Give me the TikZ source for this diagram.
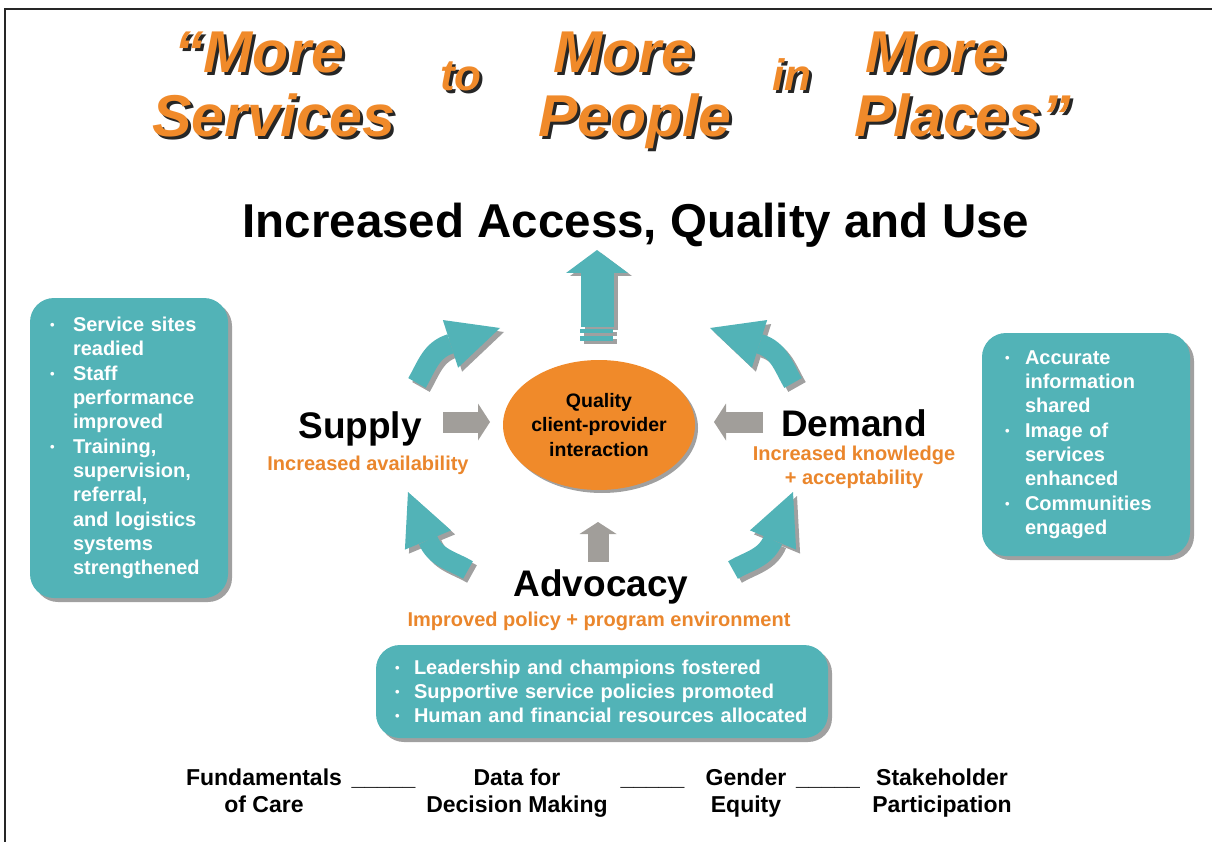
\documentclass[tikz,border=0pt]{standalone}
\usepackage{fontspec}
\setmainfont{Liberation Sans}
\usepackage{xcolor}
\usepackage{tikz}
\usetikzlibrary{arrows.meta,shapes.geometric,shadows}

\definecolor{boxteal}{RGB}{82,179,183}
\definecolor{hubor}{RGB}{240,138,42}
\definecolor{subor}{RGB}{234,134,44}
\definecolor{shadowgray}{RGB}{160,160,160}
\definecolor{arrowgray}{RGB}{161,158,154}

\newlength{\bulw}
\setlength{\bulw}{21pt}
\newcommand{\dropped}[1]{\rlap{\textcolor{black!85}{\kern3pt\raisebox{-3pt}{#1}}}#1}
\newcommand{\bul}{\makebox[\bulw][l]{\raisebox{2pt}{\fontsize{13}{13}\selectfont\textbullet}}}
\newcommand{\ind}{\hspace*{\bulw}}

\tikzset{
  slogan/.style={anchor=base, inner sep=0pt, text=hubor, font=\fontsize{59}{59}\selectfont\bfseries\itshape},
  joiner/.style={slogan, font=\fontsize{44}{44}\selectfont\bfseries\itshape},
  goal/.style={anchor=base, inner sep=0pt, font=\fontsize{47.5}{47.5}\selectfont\bfseries},
  pillar/.style={anchor=base, inner sep=0pt, font=\fontsize{37}{37}\selectfont\bfseries},
  result/.style={inner sep=0pt, align=center, text=subor, font=\fontsize{20}{24}\selectfont\bfseries},
  hub/.style={ellipse, fill=hubor, minimum width=192pt, minimum height=130pt, inner sep=0pt, align=center,
    font=\fontsize{19.5}{24.5}\selectfont\bfseries, drop shadow={shadow xshift=3pt, shadow yshift=-3pt, fill=shadowgray, opacity=1}},
  infobox/.style={rounded corners=24pt, fill=boxteal, text=white, align=left, inner ysep=0pt,
    font=\fontsize{20}{24.3}\selectfont\bfseries, drop shadow={shadow xshift=4pt, shadow yshift=-4pt, fill=shadowgray, opacity=1}},
  pillarfoot/.style={inner sep=0pt, align=center, font=\fontsize{23}{27}\selectfont\bfseries},
  flat arrow/.style={line width=21pt, color=arrowgray, -{Triangle[length=12pt,width=37pt,line width=0pt]}},
  bend arrow/.style={line width=20pt, color=boxteal, -{Triangle[length=52pt,width=50pt,line width=0pt]}},
  bend shadow/.style={bend arrow, color=shadowgray, transform canvas={shift={(4pt,-4pt)}}},
  up arrow/.style={line width=33pt, color=boxteal, -{Triangle[length=23pt,width=62pt,line width=0pt]}},
  frame/.style={line width=1.6pt, draw=black!85}
}

\begin{document}
\begin{tikzpicture}[x=1pt,y=1pt]
\useasboundingbox (0,0) rectangle (1212,-842);
\draw[frame] (5,-842) -- (5,-9) -- (1212,-9);

\node[slogan] (more1) at (274,-73) {\dropped{\llap{“}More}};
\node[slogan] (services) at (274,-137) {\dropped{Services}};
\node[joiner] (to) at (461,-91) {\dropped{to}};
\node[slogan] (more2) at (624,-73) {\dropped{More}};
\node[slogan] (people) at (635,-137) {\dropped{People}};
\node[joiner] (in) at (792,-91) {\dropped{in}};
\node[slogan] (more3) at (936,-73) {\dropped{More}};
\node[slogan] (places) at (948,-137) {\dropped{Places\rlap{”}}};

\node[goal] (goal) at (636,-238) {Increased Access, Quality and Use};

\coordinate (up-a) at (597,-327);
\coordinate (up-b) at (597,-250);
\draw[up arrow, color=shadowgray, transform canvas={shift={(4pt,-3pt)}}] (up-a) -- (up-b);
\draw[up arrow] (up-a) -- (up-b);
\foreach \ya/\yb in {329/333,336/341} {
  \fill[shadowgray] (584,{-\ya-3}) rectangle (617,{-\yb-3});
  \fill[boxteal] (580,-\ya) rectangle (613,-\yb);
}

\node[hub] (hub) at (599,-425) {Quality\\client-provider\\interaction};

\node[pillar] (supply) at (360,-438) {Supply};
\node[result, anchor=base] (avail) at (368,-470) {Increased availability};
\node[pillar] (demand) at (854,-436) {Demand};
\node[result] (know) at (854,-467.8) {Increased knowledge\\+ acceptability};
\node[pillar] (advocacy) at (601,-596) {Advocacy};
\node[result, anchor=base] (env) at (599,-626) {Improved policy + program environment};

\coordinate (sup-out) at (443,-422);
\coordinate (sup-in) at (490,-422);
\coordinate (dem-out) at (763,-422);
\coordinate (dem-in) at (714,-422);
\coordinate (adv-out) at (598,-562);
\coordinate (adv-in) at (598,-522);
\draw[flat arrow] (sup-out) -- (sup-in);
\draw[flat arrow] (dem-out) -- (dem-in);
\draw[flat arrow] (adv-out) -- (adv-in);

\coordinate (ul-a) at (417,-383);
\coordinate (ul-b) at (450,-344);
\coordinate (ul-c) at (500,-328);
\coordinate (ur-a) at (793,-383);
\coordinate (ur-b) at (760,-344);
\coordinate (ur-c) at (710,-328);
\coordinate (ll-a) at (468,-570);
\coordinate (ll-b) at (428,-540);
\coordinate (ll-c) at (408,-492);
\coordinate (lr-a) at (733,-570);
\coordinate (lr-b) at (773,-540);
\coordinate (lr-c) at (793,-492);
\draw[bend shadow] (ul-a) to[out=60,in=198] (ul-b) -- (ul-c);
\draw[bend arrow] (ul-a) to[out=60,in=198] (ul-b) -- (ul-c);
\draw[bend shadow] (ur-a) to[out=120,in=-18] (ur-b) -- (ur-c);
\draw[bend arrow] (ur-a) to[out=120,in=-18] (ur-b) -- (ur-c);
\draw[bend shadow] (ll-a) to[out=150,in=-67] (ll-b) -- (ll-c);
\draw[bend arrow] (ll-a) to[out=150,in=-67] (ll-b) -- (ll-c);
\draw[bend shadow] (lr-a) to[out=30,in=247] (lr-b) -- (lr-c);
\draw[bend arrow] (lr-a) to[out=30,in=247] (lr-b) -- (lr-c);

\node[infobox, inner xsep=20pt, text width=158pt, minimum height=300pt,
  execute at begin node={\setlength{\bulw}{23pt}}] (supbox) at (129,-448)
  {\bul Service sites\\\ind readied\\\bul Staff\\\ind performance\\\ind improved\\\bul Training,\\\ind supervision,\\\ind referral,\\\ind and logistics\\\ind systems\\\ind strengthened};
\node[infobox, inner xsep=23pt, text width=162pt, minimum height=223pt,
  execute at begin node={\setlength{\bulw}{20pt}}] (dembox) at (1086,-444.5)
  {\bul Accurate\\\ind information\\\ind shared\\\bul Image of\\\ind services\\\ind enhanced\\\bul Communities\\\ind engaged};
\node[infobox, inner xsep=19pt, text width=414pt, minimum height=93pt,
  execute at begin node={\setlength{\bulw}{19pt}}] (advbox) at (602,-691.5)
  {\bul Leadership and champions fostered\\\bul Supportive service policies promoted\\\bul Human and financial resources allocated};

\node[pillarfoot] (care) at (264,-791) {Fundamentals\\of Care};
\node[pillarfoot, anchor=base] (line1) at (383.5,-785) {\_\_\_\_\_};
\node[pillarfoot] (data) at (517,-793.5) {Data for\\Decision Making};
\node[pillarfoot, anchor=base] (line2) at (652.5,-785) {\_\_\_\_\_};
\node[pillarfoot] (gender) at (746,-793.5) {Gender\\Equity};
\node[pillarfoot, anchor=base] (line3) at (828,-785) {\_\_\_\_\_};
\node[pillarfoot] (stake) at (942,-793.5) {Stakeholder\\Participation};
\end{tikzpicture}
\end{document}
